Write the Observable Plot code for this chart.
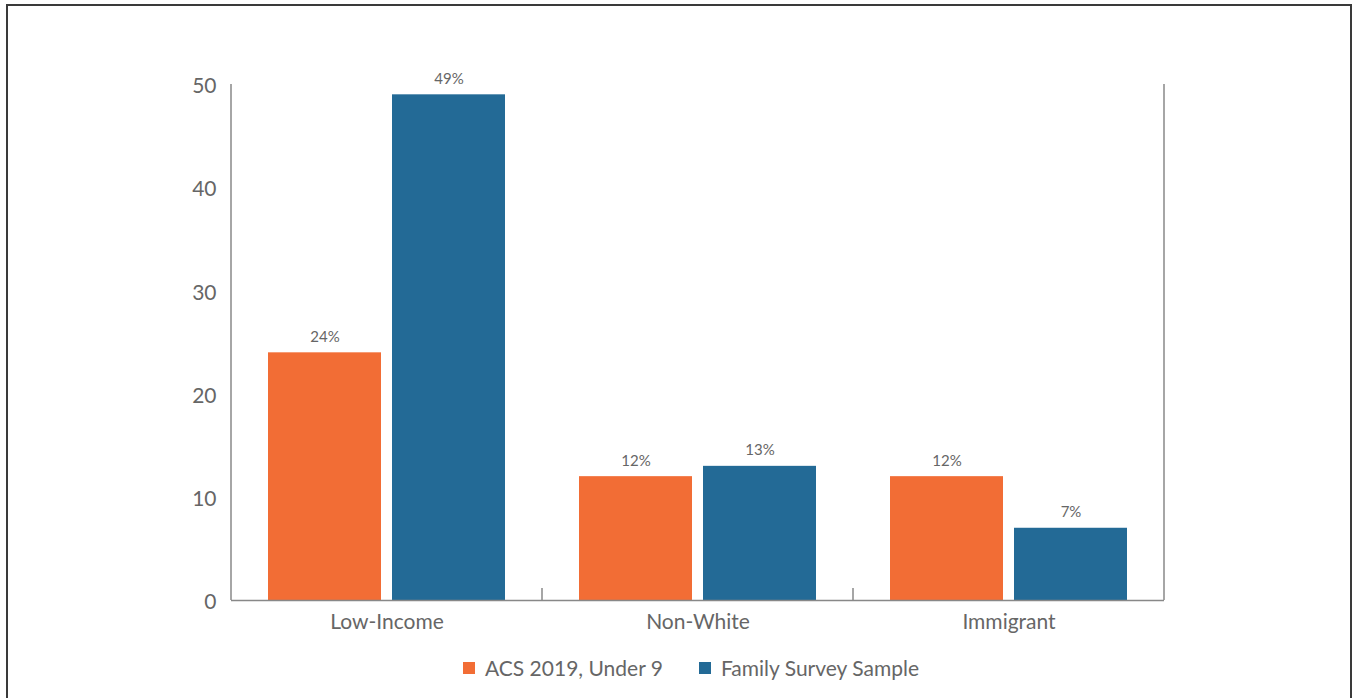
<!DOCTYPE html>
<html><head><meta charset="utf-8">
<script src="https://cdn.jsdelivr.net/npm/d3@7"></script>
<script src="https://cdn.jsdelivr.net/npm/@observablehq/plot@0.6"></script>
<style>
body{margin:0;background:#fff;font-family:Lato,sans-serif;}
#frame{position:absolute;left:6px;top:4px;width:1342px;height:720px;border:2px solid #3a3a3a;background:#fff;}
#chart{position:absolute;left:0;top:0;}
#legend{position:absolute;left:455px;top:649px;display:flex;gap:36px;font-size:21px;line-height:26px;color:#666;font-family:Lato,sans-serif;}
.item{display:flex;align-items:center;gap:10px}
.sw{width:12px;height:12px;display:inline-block}
</style></head><body>
<div id="frame"><div id="chart"></div><div id="legend"></div></div>
<script>
const categories = ["Low-Income", "Non-White", "Immigrant"];
const series = ["ACS 2019, Under 9", "Family Survey Sample"];
const acsValues = [24, 12, 12];
const surveyValues = [49, 13, 7];
const colors = ["#F26D35", "#236A96"];
const yTicks = [0, 10, 20, 30, 40, 50];

const data = categories.flatMap((c, i) => [
  {category: c, series: series[0], value: acsValues[i]},
  {category: c, series: series[1], value: surveyValues[i]}
]);

const plot = Plot.plot({
  width: 1342,
  height: 640,
  marginLeft: 223,
  marginRight: 186,
  marginTop: 78,
  marginBottom: 46,
  style: {fontFamily: "Lato, sans-serif", color: "#666", background: "transparent"},
  fx: {domain: categories, padding: 0},
  x: {domain: series, paddingInner: 0.0887, paddingOuter: 0.298, axis: null},
  y: {domain: [0, 50]},
  color: {domain: series, range: colors},
  marks: [
    Plot.barY(data, {fx: "category", x: "series", y: "value", fill: "series"}),
    Plot.text(data, {fx: "category", x: "series", y: "value", text: d => d.value + "%", dy: -11, lineAnchor: "bottom", fontSize: 15, fill: "#666"}),
    Plot.ruleY([0], {stroke: "#888", strokeWidth: 1.5}),
    Plot.axisY({ticks: yTicks, tickSize: 0, tickPadding: 15, fontSize: 21, label: null, dy: 2}),
    Plot.axisFx({anchor: "bottom", tickSize: 0, tickPadding: 14, fontSize: 21, label: null})
  ]
});

document.getElementById("chart").appendChild(plot);

// axis frame lines drawn from the plot's own scales
const fx = plot.scale("fx");
const y = plot.scale("y");
const svg = d3.select(plot);
const bw = fx.bandwidth;
const left = fx.apply(categories[0]);
const right = fx.apply(categories[categories.length - 1]) + bw;
const g = svg.append("g").attr("stroke", "#888").attr("stroke-width", 1.5);
g.append("line").attr("x1", left).attr("x2", left).attr("y1", y.apply(50)).attr("y2", y.apply(0));
g.append("line").attr("x1", right).attr("x2", right).attr("y1", y.apply(50)).attr("y2", y.apply(0));
categories.slice(0, -1).forEach(c => {
  const xb = fx.apply(c) + bw;
  g.append("line").attr("x1", xb).attr("x2", xb).attr("y1", y.apply(0) - 12).attr("y2", y.apply(0));
});

const legend = d3.select("#legend");
series.forEach((s, i) => {
  const it = legend.append("div").attr("class", "item");
  it.append("span").attr("class", "sw").style("background", colors[i]);
  it.append("span").text(s);
});
</script>
</body></html>
